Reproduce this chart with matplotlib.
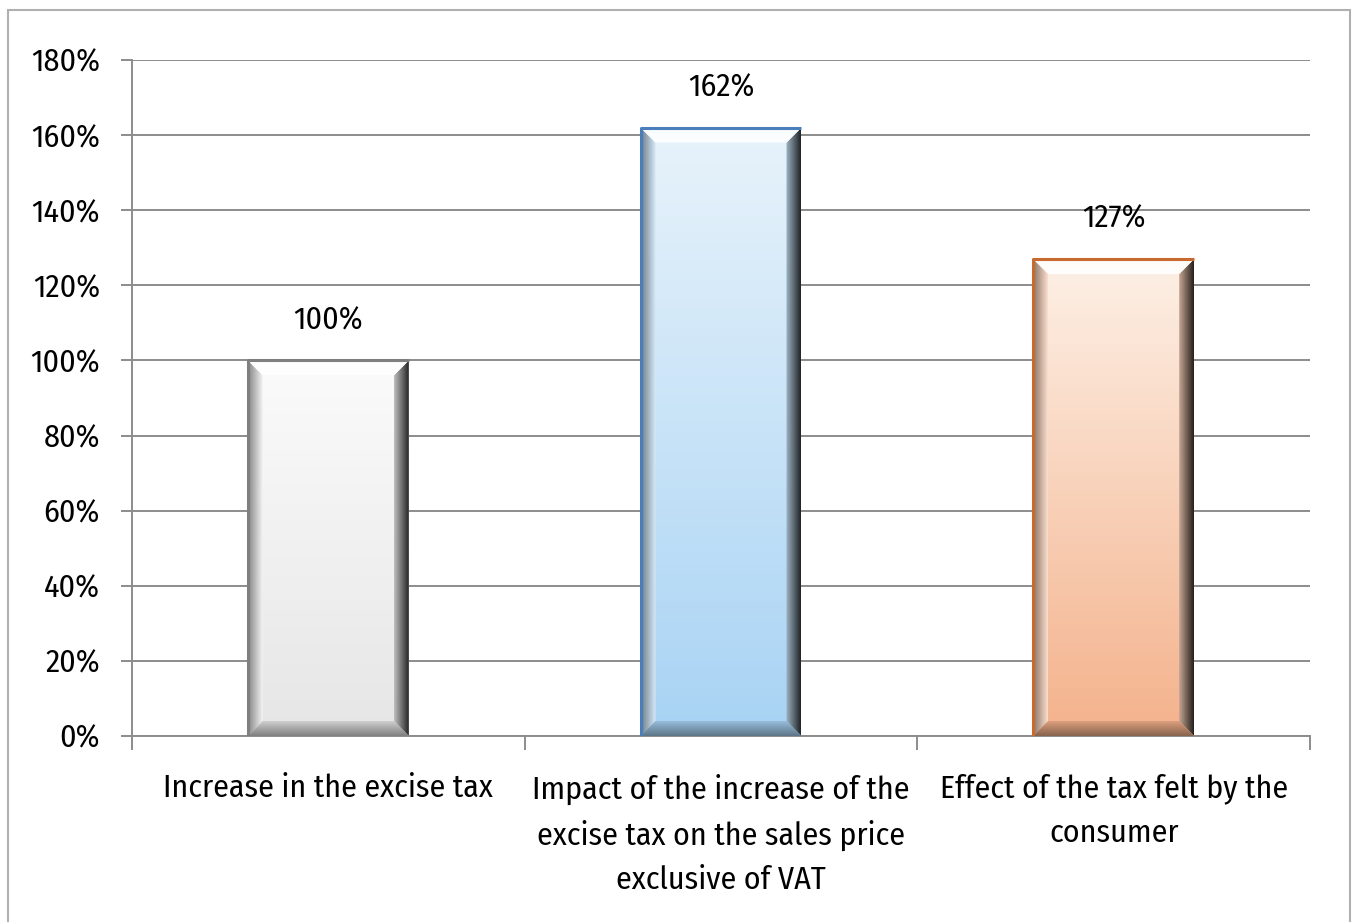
import numpy as np
import matplotlib
matplotlib.use("Agg")
import matplotlib.pyplot as plt
from matplotlib.colors import LinearSegmentedColormap, to_rgb
from matplotlib.patches import Polygon, Rectangle
from matplotlib.ticker import FuncFormatter, FixedLocator

categories = ["Increase in the excise tax",
              "Impact of the increase of the\nexcise tax on the sales price\nexclusive of VAT",
              "Effect of the tax felt by the\nconsumer"]
values = [100, 162, 127]
value_labels = ["100%", "162%", "127%"]
y_ticks = [0, 20, 40, 60, 80, 100, 120, 140, 160, 180]

top_colors = ["#fbfbfb", "#e8f3fb", "#fdf0e6"]
bottom_colors = ["#e6e6e6", "#a8d3f4", "#f4b28c"]
edge_colors = ["#7f7f7f", "#4a7ebb", "#c8692e"]

plt.rcParams['font.family'] = ['Fira Sans Condensed', 'Roboto Condensed',
                               'Archivo Narrow', 'Asap Condensed', 'DejaVu Sans']
FS = 23

fig = plt.figure(figsize=(13.54, 9.22), dpi=100)
ax = fig.add_axes([132/1354, 1-736/922, (1310-132)/1354, (736-60)/922])

# outer frame
fig.patches.append(Rectangle((8/1354, -0.01), (1350-8)/1354, 1-10/922+0.01,
                             transform=fig.transFigure, fill=False,
                             edgecolor="#b0b0b0", linewidth=1.5))

x = np.arange(len(categories))
width = 0.41
bars = ax.bar(x, values, width=width, color="none", edgecolor="none", zorder=3)

ax.set_xlim(-0.5, len(categories) - 0.5)
ax.set_ylim(0, 180)


def mix(c, other, t):
    c = np.array(to_rgb(c)); o = np.array(to_rgb(other))
    return tuple(c * (1 - t) + o * t)


def grad_fill(poly_xy, extent, c0, c1, direction, z):
    cmap = LinearSegmentedColormap.from_list("g", [c0, c1])
    n = 256
    if direction == 'v':
        arr = np.linspace(0, 1, n).reshape(n, 1)
    else:
        arr = np.linspace(0, 1, n).reshape(1, n)
    poly = Polygon(poly_xy, closed=True, facecolor="none", edgecolor="none",
                   transform=ax.transData)
    ax.add_patch(poly)
    im = ax.imshow(arr, cmap=cmap, extent=extent, origin="lower",
                   aspect="auto", interpolation="bilinear", zorder=z)
    im.set_clip_path(poly)


ppx = (1310-132) / 3.0
ppy = (736-60) / 180.0
bx = 15 / ppx
by = 15 / ppy

for i, b in enumerate(bars):
    x0 = b.get_x(); w = b.get_width(); h = b.get_height()
    x1 = x0 + w
    base_top = top_colors[i]; base_bot = bottom_colors[i]
    mid = mix(base_top, base_bot, 0.5)
    grad_fill([(x0, 0), (x1, 0), (x1, h), (x0, h)], (x0, x1, 0, h),
              base_bot, base_top, 'v', 3)
    grad_fill([(x0, 0), (x0+bx, by), (x0+bx, h-by), (x0, h)],
              (x0, x0+bx, 0, h), mix(mid, "black", 0.45), mix(mid, "white", 0.3), 'h', 4)
    grad_fill([(x1, 0), (x1-bx, by), (x1-bx, h-by), (x1, h)],
              (x1-bx, x1, 0, h), mix(mid, "black", 0.2), mix(mid, "black", 0.85), 'h', 4)
    grad_fill([(x0, h), (x1, h), (x1-bx, h-by), (x0+bx, h-by)],
              (x0, x1, h-by, h), mix(base_top, "white", 0.9), mix(base_top, "white", 0.7), 'v', 4)
    grad_fill([(x0, 0), (x1, 0), (x1-bx, by), (x0+bx, by)],
              (x0, x1, 0, by), mix(base_bot, "black", 0.45), mix(base_bot, "black", 0.1), 'v', 4)
    ax.plot([x0, x0, x1], [0, h, h], color=edge_colors[i], lw=2.2, zorder=5,
            solid_capstyle="butt")
    ax.annotate(value_labels[i], (b.get_x() + w/2, h), xytext=(0, 18),
                textcoords="offset points", ha="center", va="bottom",
                fontsize=FS, color="black", zorder=6)

ax.yaxis.set_major_locator(FixedLocator(y_ticks))
ax.yaxis.set_major_formatter(FuncFormatter(lambda v, p: f"{int(v)}%"))
ax.grid(axis="y", color="#8c8c8c", linewidth=1.4, zorder=0)
ax.set_axisbelow(True)
for s in ["top", "right"]:
    ax.spines[s].set_visible(False)
ax.spines["left"].set_color("#8c8c8c")
ax.spines["left"].set_linewidth(1.4)
ax.spines["bottom"].set_color("#8c8c8c")
ax.spines["bottom"].set_linewidth(1.4)
ax.tick_params(axis="y", length=8, width=1.4, color="#8c8c8c",
               labelsize=FS, pad=15)

ax.set_xticks([-0.5, 0.5, 1.5, 2.5])
ax.set_xticklabels([])
ax.tick_params(axis="x", which="major", length=10, width=1.4, color="#8c8c8c")
ax.set_xticks(x, minor=True)
ax.set_xticklabels(categories, minor=True, fontsize=FS, linespacing=1.6)
ax.tick_params(axis="x", which="minor", length=0, pad=27)

fig.savefig("out.png", dpi=100)
